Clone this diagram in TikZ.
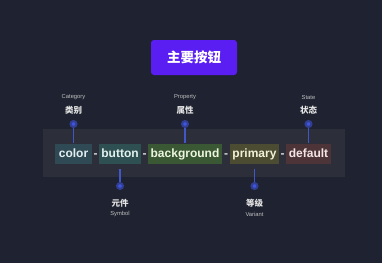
\documentclass[tikz,border=0pt]{standalone}
\usepackage{fontspec}
\setmainfont{Liberation Sans}
\newfontfamily\cjk{Noto Sans CJK SC}
\usetikzlibrary{positioning}

\definecolor{bgnavy}{HTML}{1F2230}
\definecolor{panelgray}{HTML}{2C2F3A}
\definecolor{btnviolet}{HTML}{5A1EF2}
\definecolor{linkblue}{HTML}{4157C8}
\definecolor{dotblue}{HTML}{3F55E0}

\begin{document}
\begin{tikzpicture}[
  x=1pt, y=-1pt,
  panel/.style={fill=panelgray, draw=none},
  token/.style={minimum height=20pt, inner sep=0pt, text height=8pt, text depth=1pt,
    font=\bfseries\fontsize{12}{14}\selectfont},
  dashsign/.style={text=white!85!black, font=\bfseries\fontsize{12}{14}\selectfont,
    inner sep=0pt, anchor=base},
  pin/.style={circle, fill=dotblue, minimum size=6pt, inner sep=0pt,
    draw=dotblue!55!bgnavy, line width=2pt},
  link/.style={draw=linkblue, line width=1.2pt},
  cnlab/.style={text=white!90!black, font=\cjk\bfseries\fontsize{8.5}{10}\selectfont},
  enlab/.style={text=white!75!black, font=\fontsize{5.8}{7}\selectfont}
]
\useasboundingbox[fill=bgnavy] (0,0) rectangle (382,263);

% title button
\node[fill=btnviolet, rounded corners=3pt, minimum width=86pt, minimum height=35pt,
  text=white, font=\cjk\bfseries\fontsize{13.5}{15}\selectfont] (btn) at (194,57.5) {主要按钮};

% panel behind the tokens
\fill[panel] (43,129) rectangle (345,177);

% tokens
\foreach \name/\x/\w/\fillc/\textc/\word in {
  color/73.5/37/2F4A55/E2EEF0/color,
  button/120/42/2F5052/E2F0EE/button,
  backg/185/74/3A5833/ECF6DE/background,
  primary/254.5/49/4C4C32/F2F2D8/primary,
  default/308.5/45/4C3438/F4E4E6/default
}{
  \definecolor{tokfill}{HTML}{\fillc}
  \definecolor{tokink}{HTML}{\textc}
  \node[token, fill=tokfill, text=tokink, minimum width=\w pt] (\name) at (\x,153.5) {\word};
}
\foreach \i/\x in {1/95.5, 2/144.5, 3/226, 4/282.5}
  \node[dashsign] (dash\i) at (\x,0 |- color.base) {-};

% labels above
\foreach \name/\x/\en/\cn in {color/73.5/Category/类别, backg/185/Property/属性, default/308.5/State/状态}{
  \node[enlab] (en\name) at (\x,97) {\en};
  \node[cnlab] (cn\name) at (\x,110) {\cn};
  \node[pin] (pin\name) at (\x,124) {};
  \draw[link] (pin\name) -- (\name.north);
}

% labels below
\foreach \name/\x/\en/\cn in {button/120/Symbol/元件, primary/254.5/Variant/等级}{
  \node[pin] (pin\name) at (\x,186) {};
  \coordinate (from\name) at ([yshift=-5pt]\name.south);
  \draw[link] (from\name) -- (pin\name);
  \node[cnlab] (cn\name) at (\x,203) {\cn};
  \node[enlab] (en\name) at (\x,214) {\en};
}
\end{tikzpicture}
\end{document}
